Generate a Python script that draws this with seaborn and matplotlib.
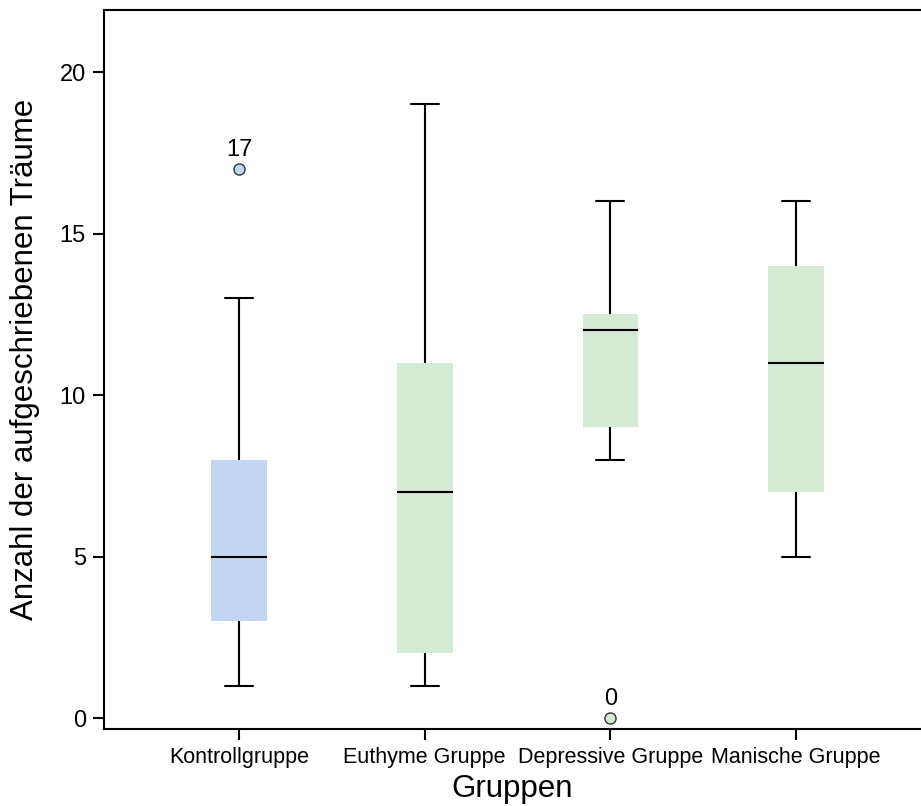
import pandas as pd
import matplotlib
matplotlib.use('Agg')
import matplotlib.pyplot as plt
import seaborn as sns

# Group names and observed counts per group
groups = ['Kontrollgruppe', 'Euthyme Gruppe', 'Depressive Gruppe', 'Manische Gruppe']
kontroll = [1, 2, 3, 3, 4, 5, 5, 6, 8, 8, 10, 13, 17]
euthym = [1, 2, 2, 2, 5, 6, 7, 9, 10, 11, 14, 17, 19]
depressiv = [0, 8, 8, 9, 9, 10, 11, 12, 12, 12, 12, 13, 14, 15, 16]
manisch = [5, 6, 7, 7, 9, 10, 11, 12, 13, 14, 15, 16, 16]
colors = ['#c2d6f3', '#d4ead4', '#d4ead4', '#d4ead4']

rows = []
for g, vals in zip(groups, [kontroll, euthym, depressiv, manisch]):
    for v in vals:
        rows.append({'Gruppen': g, 'Traeume': v})
df = pd.DataFrame(rows)

sns.set_style('ticks')
plt.rcParams['font.family'] = ['Liberation Sans', 'DejaVu Sans']
plt.rcParams['text.color'] = 'black'
plt.rcParams['axes.labelcolor'] = 'black'
plt.rcParams['xtick.color'] = 'black'
plt.rcParams['ytick.color'] = 'black'

fig = plt.figure(figsize=(9.21, 8.06), dpi=100)
ax = fig.add_axes([104 / 921, 1 - 729 / 806, 1 - 104 / 921, (729 - 10) / 806])

sns.boxplot(data=df, x='Gruppen', y='Traeume', hue='Gruppen', order=groups,
            hue_order=groups, palette=colors, saturation=1, legend=False, width=0.3,
            linecolor='black', linewidth=1.5,
            flierprops=dict(marker='o', markersize=8, markeredgecolor='#333333'),
            ax=ax)

# Boxes without outline
for patch in ax.patches:
    patch.set_edgecolor('none')

# Colour the outliers like their box and label them with their value
for line in ax.lines:
    if line.get_marker() == 'o' and len(line.get_xdata()) > 0:
        xs = line.get_xdata()
        ys = line.get_ydata()
        for x, y in zip(xs, ys):
            idx = int(round(x))
            line.set_markerfacecolor(colors[idx])
            ax.text(x, y + 0.25, f'{y:g}', ha='center', va='bottom', fontsize=17)

ax.set_xlim(-0.727, 3.673)
ax.set_ylim(-0.34, 21.92)
ax.set_yticks([0, 5, 10, 15, 20])

for s in ['left', 'bottom', 'top']:
    ax.spines[s].set_visible(True)
    ax.spines[s].set_color('black')
    ax.spines[s].set_linewidth(1.5)
ax.spines['right'].set_visible(False)

ax.tick_params(axis='both', direction='out', length=8, width=1.5, color='black', pad=5,
               bottom=True, left=True, top=False, right=False)
ax.tick_params(axis='y', labelsize=17)
ax.tick_params(axis='x', labelsize=15.5)

ax.set_xlabel('Gruppen', fontsize=22.5, labelpad=4)
ax.set_ylabel('Anzahl der aufgeschriebenen Träume', fontsize=22.5)
ax.yaxis.set_label_coords(-0.078, 0.514)

fig.savefig('out.png', dpi=100)
